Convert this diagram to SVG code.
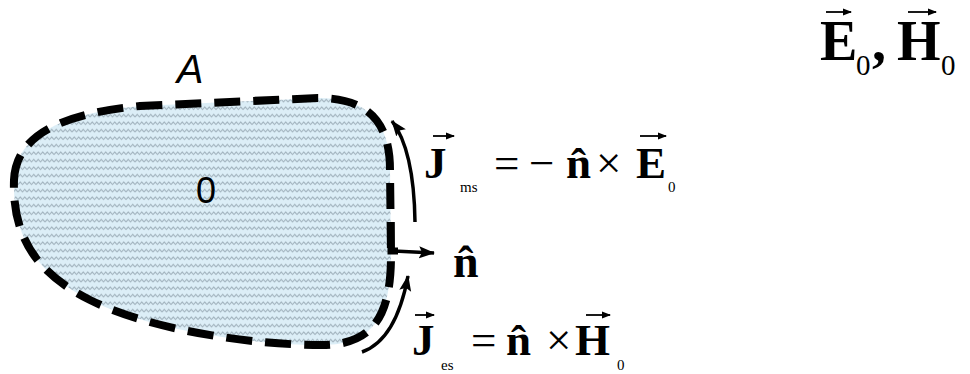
<svg xmlns="http://www.w3.org/2000/svg" width="970" height="374" viewBox="0 0 970 374">
  <defs>
    <pattern id="wave" patternUnits="userSpaceOnUse" width="9" height="7.5">
      <rect width="9" height="7.5" fill="#dceef7"/>
      <path d="M0,4.5 L2.25,2 L4.5,4.5 L6.75,2 L9,4.5" fill="none" stroke="#9cadb8" stroke-width="1"/>
    </pattern>
    <marker id="ah" markerUnits="userSpaceOnUse" markerWidth="18" markerHeight="14" refX="15" refY="7" orient="auto">
      <path d="M0,1 L16,7 L0,13 L3,7 z" fill="#000"/>
    </marker>
    <marker id="va" markerUnits="userSpaceOnUse" markerWidth="10" markerHeight="8" refX="8" refY="4" orient="auto">
      <path d="M0,0.5 L9,4 L0,7.5 z" fill="#000"/>
    </marker>
  </defs>
  <style>
    .b { font-family: "Liberation Serif", "Times New Roman", serif; font-weight: bold; fill: #000; }
    .r { font-family: "Liberation Serif", "Times New Roman", serif; font-weight: normal; fill: #000; }
    .s { font-family: "Liberation Sans", Arial, sans-serif; fill: #000; }
    .conn { fill: none; stroke: #000; stroke-width: 3.5; }
    .vec { fill: none; stroke: #000; stroke-width: 1.8; marker-end: url(#va); }
  </style>

  <g id="region">
    <path d="M14,180 C16,132 68,113 140,106 L318,98 C366,98 390,120 390,170 L391,255 C391,312 376,345 322,345 C252,345 150,330 90,300 C40,275 12,240 14,180 Z"
          fill="url(#wave)" stroke="#000" stroke-width="8" stroke-dasharray="26 13"/>
    <text class="s" x="206" y="203" font-size="36" text-anchor="middle">0</text>
  </g>

  <g id="label-A">
    <text class="s" x="190" y="83" font-size="40" font-style="italic" text-anchor="middle">A</text>
  </g>

  <g id="connectors">
    <path class="conn" d="M415,222 Q414,150 392,121" marker-end="url(#ah)"/>
    <path class="conn" d="M362,352 Q396,340 408,276" marker-end="url(#ah)"/>
    <path d="M391,222 L391,251 L398,251" fill="none" stroke="#000" stroke-width="7"/>
    <path class="conn" d="M394,251 L434,253" marker-end="url(#ah)"/>
  </g>

  <g id="fields">
    <text class="b" x="820" y="60" font-size="56">E</text>
    <line class="vec" x1="826" y1="12" x2="851" y2="12"/>
    <text class="r" x="856" y="75" font-size="29">0</text>
    <text class="b" x="872" y="60" font-size="56">,</text>
    <text class="b" x="897" y="60" font-size="56">H</text>
    <line class="vec" x1="908" y1="12" x2="936" y2="12"/>
    <text class="r" x="941" y="75" font-size="29">0</text>
  </g>

  <g id="eq-jms">
    <text class="b" x="424" y="178" font-size="45">J</text>
    <line class="vec" x1="433" y1="136" x2="454" y2="136"/>
    <text class="r" x="460" y="192" font-size="15">ms</text>
    <text class="r" x="494" y="178" font-size="45">=</text>
    <text class="r" x="529" y="178" font-size="45">−</text>
    <text class="b" x="566" y="178" font-size="45">n&#x302;</text>
    <text class="r" x="596" y="178" font-size="45">×</text>
    <text class="b" x="636" y="178" font-size="45">E</text>
    <line class="vec" x1="640" y1="136" x2="666" y2="136"/>
    <text class="r" x="668" y="192" font-size="15">0</text>
  </g>

  <g id="eq-n">
    <text class="b" x="453" y="277" font-size="46">n&#x302;</text>
  </g>

  <g id="eq-jes">
    <text class="b" x="412" y="355" font-size="45">J</text>
    <line class="vec" x1="415" y1="315" x2="434" y2="315"/>
    <text class="r" x="441" y="370" font-size="15">es</text>
    <text class="r" x="471" y="355" font-size="45">=</text>
    <text class="b" x="506" y="355" font-size="45">n&#x302;</text>
    <text class="r" x="546" y="355" font-size="45">×</text>
    <text class="b" x="575" y="355" font-size="45">H</text>
    <line class="vec" x1="586" y1="315" x2="610" y2="315"/>
    <text class="r" x="617" y="370" font-size="15">0</text>
  </g>
</svg>
